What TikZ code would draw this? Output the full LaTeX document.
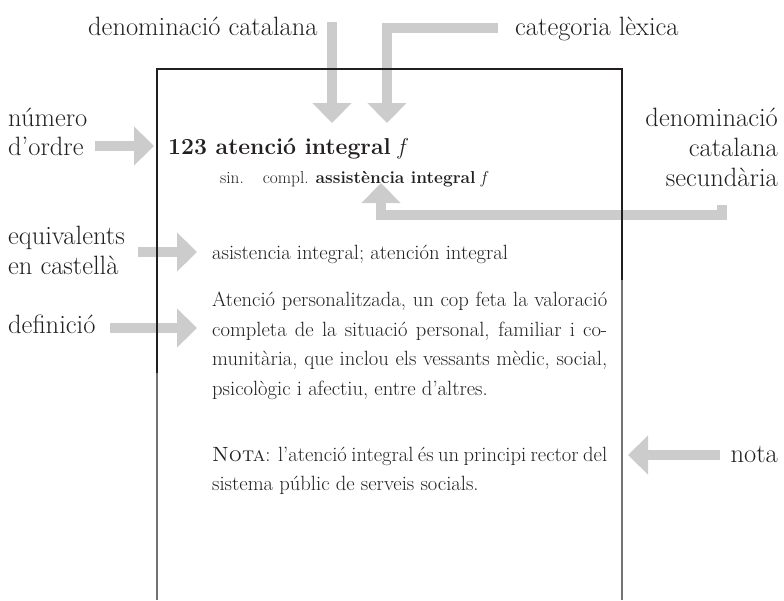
\documentclass[tikz,border=0pt]{standalone}
\usetikzlibrary{arrows.meta}
\definecolor{arrowgray}{RGB}{204,204,204}
\definecolor{framegray}{RGB}{115,115,115}
\definecolor{ink}{RGB}{35,31,32}
\tikzset{
  garrow/.style={draw=arrowgray, line width=10pt, line join=miter, line cap=butt,
    -{Triangle[length=20pt,width=38pt]}},
  frameblack/.style={draw=ink, line width=1.8pt},
  framegrey/.style={draw=framegray, line width=1.2pt},
  lbl/.style={font=\fontsize{26.5}{30}\selectfont, inner sep=0pt, text=ink},
  body/.style={font=\fontsize{20.6}{29.5}\selectfont, inner sep=0pt, anchor=base west, text=ink},
  head/.style={font=\fontsize{23}{26}\selectfont, inner sep=0pt, anchor=base west, text=ink},
  sub/.style={font=\fontsize{17.3}{20}\selectfont, inner sep=0pt, anchor=base west, text=ink},
}
\newcommand{\jline}[1]{\hbox to 395pt{#1}}
\begin{document}
\begin{tikzpicture}[x=1pt,y=-1pt]
\useasboundingbox (0,0) rectangle (784,600);

% ---------- labels (outside) ----------
\node[lbl, anchor=base west] (ldencat) at (88,35) {denominació catalana};
\node[lbl, anchor=base west] (lcat) at (515,35) {categoria lèxica};
\node[lbl, anchor=base west] (lnum1) at (8,126) {número};
\node[lbl, anchor=base west] (lnum2) at (8,155) {d’ordre};
\node[lbl, anchor=base east] (lsec1) at (778,126) {denominació};
\node[lbl, anchor=base east] (lsec2) at (778,156) {catalana};
\node[lbl, anchor=base east] (lsec3) at (778,186) {secundària};
\node[lbl, anchor=base west] (leq1) at (8,244) {equivalents};
\node[lbl, anchor=base west] (leq2) at (8,274) {en castellà};
\node[lbl, anchor=base west] (ldef) at (8,333) {definició};
\node[lbl, anchor=base east] (lnota) at (778,462) {nota};

% ---------- arrow end points ----------
\coordinate (a1s) at (332,22);   \coordinate (a1e) at (332,123);
\coordinate (a2s) at (498,27.5); \coordinate (a2e) at (387,123);
\coordinate (a3s) at (95,146);   \coordinate (a3e) at (154,146);
\coordinate (a4s) at (722,205);  \coordinate (a4m) at (381,215); \coordinate (a4e) at (381,183);
\coordinate (a5s) at (138,252);  \coordinate (a5e) at (197,252);
\coordinate (a6s) at (110,328);  \coordinate (a6e) at (197,328);
\coordinate (a7s) at (720,455);  \coordinate (a7e) at (628,455);

\draw[garrow] (a1s) -- (a1e);
\draw[garrow] (a2s) -| (a2e);
\draw[garrow] (a3s) -- (a3e);
\draw[garrow] (a4s) |- (a4m) -- (a4e);
\draw[garrow] (a5s) -- (a5e);
\draw[garrow] (a6s) -- (a6e);
\draw[garrow] (a7s) -- (a7e);

% ---------- frame ----------
\coordinate (fbl) at (157,373); \coordinate (ftl) at (157,69);
\coordinate (ftr) at (622,69);  \coordinate (fbr) at (622,280);
\coordinate (fl0) at (157,600); \coordinate (fr0) at (622,600);
\draw[framegrey] (fbl) -- (fl0);
\draw[framegrey] (fbr) -- (fr0);
\draw[frameblack] (fbl) -- (ftl) -- (ftr) -- (fbr);

% ---------- entry text ----------
\node[head] (ehead) at (168,154) {\textbf{123 atenció integral} \textit{f}};
\node[sub] (esub) at (220,183) {sin.\hspace{19pt}compl. \textbf{assistència integral} \textit{f}};
\node[body] (eeq) at (212,259) {asistencia integral; atención integral};
\node[body] (ed1) at (212,306) {\jline{Atenció personalitzada, un cop feta la valoració}};
\node[body] (ed2) at (212,336) {\jline{completa de la situació personal, familiar i co-}};
\node[body] (ed3) at (212,365) {\jline{munitària, que inclou els vessants mèdic, social,}};
\node[body] (ed4) at (212,395) {psicològic i afectiu, entre d’altres.};
\node[body] (en1) at (212,461) {\jline{\textsc{Nota}: l’atenció integral és un principi rector del}};
\node[body] (en2) at (212,490) {sistema públic de serveis socials.};
\end{tikzpicture}
\end{document}
